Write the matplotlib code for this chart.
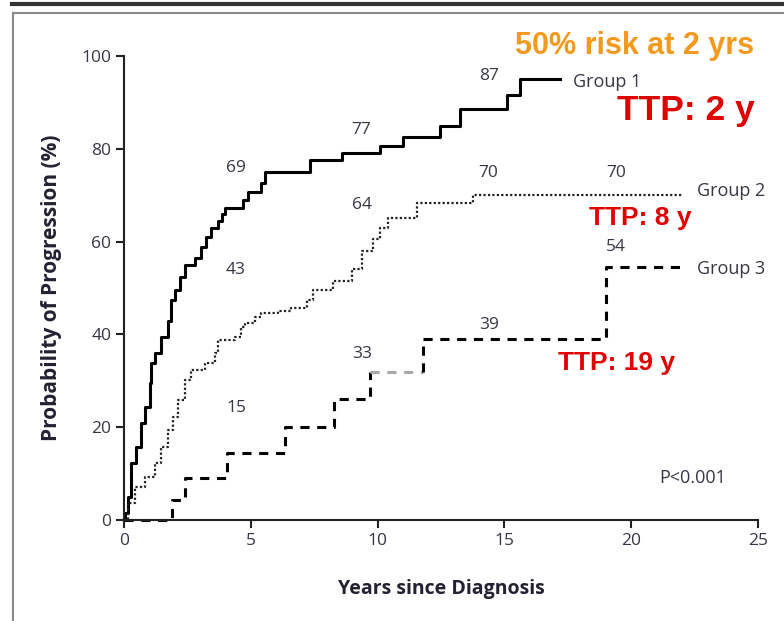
import matplotlib.pyplot as plt
from matplotlib.lines import Line2D

# Kaplan-Meier style progression curves
g1_t = [0, 0.05, 0.16, 0.28, 0.47, 0.67, 0.83, 1.03, 1.06, 1.22, 1.46, 1.74, 1.85,
        2.0, 2.2, 2.4, 2.8, 3.04, 3.23, 3.43, 3.7, 3.85, 3.98, 4.69, 4.89, 5.4,
        5.55, 7.35, 8.6, 10.1, 11.0, 12.45, 13.25, 15.1, 15.6, 17.2]
g1_p = [0, 1.5, 5, 12.3, 15.7, 20.9, 24.4, 29.5, 33.8, 36, 39.4, 43, 47.4,
        49.6, 52.4, 55, 56.5, 58.8, 61, 62.9, 64.5, 66, 67.2, 69, 70.7, 72.6,
        75, 77.5, 79, 80.5, 82.5, 85, 88.5, 91.5, 95, 95]

g2_t = [0, 0.16, 0.43, 0.83, 1.22, 1.46, 1.74, 1.93, 2.13, 2.4, 2.64, 3.19, 3.59,
        3.7, 4.38, 4.6, 4.77, 5.17, 5.4, 6.07, 6.6, 7.2, 7.47, 8.25, 9.0, 9.4,
        9.8, 10.1, 10.4, 11.55, 13.75, 22.0]
g2_p = [0, 3.6, 7.1, 9.3, 12.3, 15.7, 19.4, 22.2, 25.9, 30.2, 32.3, 33.8, 36,
        38.8, 39.4, 41.6, 42.4, 43.8, 44.6, 45, 45.8, 47.5, 49.5, 51.5, 54, 58,
        60.5, 63, 65, 68.3, 70, 70]

g3_t = [0, 1.9, 2.4, 4.05, 6.35, 8.3, 9.7, 11.8, 19.0, 22.0]
g3_p = [0, 4.3, 9, 14.4, 20, 26, 32, 39, 54.5, 54.5]

# numbers printed along the curves: (x, y, text)
curve_labels = [(4.42, 75.9, '69'), (9.35, 84, '77'), (14.4, 95.7, '87'),
                (9.4, 67.9, '64'), (14.35, 74.8, '70'), (19.4, 74.8, '70'),
                (4.42, 53.9, '43'), (9.4, 35.8, '33'), (14.4, 42, '39'), (19.4, 58.8, '54'),
                (4.42, 24.1, '15')]
group_names = ['Group 1', 'Group 2', 'Group 3']
group_x = [17.7, 22.6, 22.6]
group_y = [94.4, 71, 54]
ttp_text = ['TTP: 2 y', 'TTP: 8 y', 'TTP: 19 y']

txt = '#363645'
plt.rcParams['font.family'] = ['Open Sans', 'DejaVu Sans']

fig = plt.figure(figsize=(7.84, 6.21), dpi=100)
ax = fig.add_axes([0.158, 0.1626, 0.809, 0.7472])

ax.step(g1_t, g1_p, where='post', color='black', lw=2.2)
ax.step(g2_t, g2_p, where='post', color='#222222', lw=1.6, linestyle=(0, (1, 1)))
# group 3: black dashes with one grey piece between ~10 and ~12 years
dash = (0, (3, 2.5))
ax.step(g3_t[:7], g3_p[:7], where='post', color='black', lw=2.2, linestyle=dash, clip_on=False)
ax.plot(g3_t[6:8], [g3_p[6], g3_p[6]], color='#a8a8a8', lw=2.2, linestyle=dash)
ax.plot([g3_t[7], g3_t[7]], [g3_p[6], g3_p[7]], color='black', lw=2.2, linestyle=dash)
ax.step(g3_t[7:], g3_p[7:], where='post', color='black', lw=2.2, linestyle=dash)

for x, y, s in curve_labels:
    ax.text(x, y, s, fontsize=12.5, color=txt, ha='center', va='center')

for x, y, s in zip(group_x, group_y, group_names):
    ax.text(x, y, s, fontsize=13, color=txt, va='center')

ax.text(21.1, 9, 'P<0.001', fontsize=13, color=txt, va='center')

ax.set_xlim(0, 25)
ax.set_ylim(0, 100)
ax.set_xticks([0, 5, 10, 15, 20, 25])
ax.set_yticks([0, 20, 40, 60, 80, 100])
for side in ['top', 'right']:
    ax.spines[side].set_visible(False)
for side in ['left', 'bottom']:
    ax.spines[side].set_linewidth(1.5)
    ax.spines[side].set_color('#222222')
ax.tick_params(direction='out', length=6, width=1.5, color='#222222',
               labelsize=12.5, labelcolor=txt, pad=3)
ax.set_xlabel('Years since Diagnosis', fontsize=14, fontweight='bold', color='#222233', labelpad=22)
ax.set_ylabel('Probability of Progression (%)', fontsize=15, fontweight='bold', color='#222233', labelpad=14)

# overlay annotations
fig.text(0.81, 0.926, '50% risk at 2 yrs', fontsize=22, fontweight='bold', color='#F39A1E',
         ha='center', va='center', family=['Liberation Sans', 'DejaVu Sans'])
fig.text(0.875, 0.822, ttp_text[0], fontsize=25.5, fontweight='bold', color='#E00000',
         ha='center', va='center', family=['Liberation Sans', 'DejaVu Sans'])
fig.text(0.817, 0.649, ttp_text[1], fontsize=19, fontweight='bold', color='#E00000',
         ha='center', va='center', family=['Liberation Sans', 'DejaVu Sans'])
fig.text(0.786, 0.416, ttp_text[2], fontsize=19, fontweight='bold', color='#E00000',
         ha='center', va='center', family=['Liberation Sans', 'DejaVu Sans'])

# slide frame lines
fig.add_artist(Line2D([0.015, 1.0], [0.993, 0.993], color='#333333', lw=3))
fig.add_artist(Line2D([0.0166, 1.0], [0.979, 0.979], color='#8a8a8a', lw=1.5))
fig.add_artist(Line2D([0.0166, 0.0166], [0.0, 0.979], color='#8a8a8a', lw=1.5))

fig.savefig('out.png', dpi=100)
